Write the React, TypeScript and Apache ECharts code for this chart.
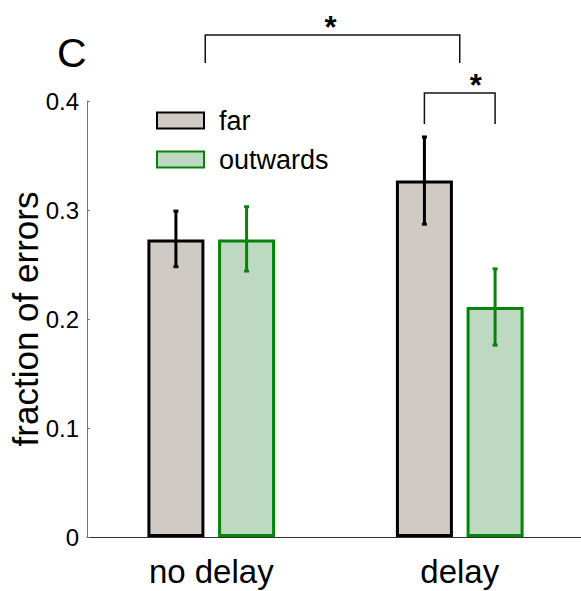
import React, { useEffect, useRef } from "react";
import * as echarts from "echarts";

const categories = ["no delay", "delay"];
const seriesNames = ["far", "outwards"];
const farMean = [0.273, 0.327];
const farLow = [0.248, 0.287];
const farHigh = [0.299, 0.367];
const outMean = [0.273, 0.211];
const outLow = [0.244, 0.176];
const outHigh = [0.303, 0.246];
const yTicks = [0, 0.1, 0.2, 0.3, 0.4];
// significance brackets: category index + bar side (-1 far, +1 outwards), top value, leg-end value
const brackets = [
  { a: [0, -0.17], b: [1, 0], top: 0.4606, leg: 0.4349, label: "*", starShift: -2, starDy: 8 },
  { a: [1, -1], b: [1, 1], top: 0.4073, leg: 0.3789, label: "*", starShift: 16, starDy: 8 },
];

const FONT = "'Liberation Sans', Arial, Helvetica, sans-serif";
const BAR_W = 57;
const BAR_GAP = 0.24;
const OFFSET = (BAR_W + BAR_W * BAR_GAP) / 2;

const FAR_FILL = "#cfcac3";
const FAR_EDGE = "#000000";
const OUT_FILL = "#bdd9c2";
const OUT_EDGE = "#078407";

function errSeries(name: string, low: number[], high: number[], color: string, dir: number) {
  return {
    type: "custom",
    name: name + "_err",
    z: 10,
    data: low.map((l, i) => [i, l, high[i]]),
    renderItem: (params: any, api: any) => {
      const lo = api.coord([api.value(0), api.value(1)]);
      const hi = api.coord([api.value(0), api.value(2)]);
      const x = lo[0] + dir * OFFSET;
      const style = { stroke: color, lineWidth: 3 };
      return {
        type: "group",
        children: [
          { type: "line", shape: { x1: x, y1: lo[1], x2: x, y2: hi[1] }, style },
          { type: "line", shape: { x1: x - 2.5, y1: lo[1], x2: x + 2.5, y2: lo[1] }, style },
          { type: "line", shape: { x1: x - 2.5, y1: hi[1], x2: x + 2.5, y2: hi[1] }, style },
        ],
      };
    },
  };
}

export default function App() {
  const ref = useRef<HTMLDivElement>(null);
  useEffect(() => {
    document.body.style.margin = "0";
    const chart = echarts.init(ref.current!, null, { renderer: "svg" });
    chart.setOption({
      animation: false,
      textStyle: { fontFamily: FONT },
      grid: { left: 87, top: 101, width: 497, height: 436, outerBoundsMode: "none", containLabel: false },
      legend: {
        data: seriesNames,
        orient: "vertical",
        left: 151,
        top: 102,
        itemWidth: 47,
        itemHeight: 16,
        itemGap: 12,
        icon: "rect",
        itemStyle: { borderWidth: 2 },
        textStyle: { fontSize: 27, color: "#000", fontFamily: FONT, padding: [0, 0, 0, 10] },
        selectedMode: false,
      },
      xAxis: {
        type: "category",
        data: categories,
        axisTick: { show: false },
        axisLine: { lineStyle: { color: "#333", width: 1 } },
        axisLabel: { fontSize: 33, color: "#000", margin: 18, fontFamily: FONT },
      },
      yAxis: {
        type: "value",
        min: 0,
        max: 0.4,
        interval: 0.1,
        name: "fraction of errors",
        nameLocation: "middle",
        nameRotate: 90,
        nameGap: 44,
        nameMoveOverlap: false,
        nameTextStyle: { fontSize: 35, color: "#000", fontFamily: FONT },
        axisLine: { show: true, lineStyle: { color: "#777", width: 1 } },
        axisTick: { show: true, inside: true, length: 3, lineStyle: { color: "#777" } },
        splitLine: { show: false },
        axisLabel: {
          fontSize: 24,
          color: "#000",
          margin: 8,
          fontFamily: FONT,
          formatter: (v: number) => {
            const t = yTicks.find((y) => Math.abs(y - v) < 1e-9);
            return t === 0 ? "0" : (t ?? v).toFixed(1);
          },
        },
      },
      series: [
        {
          type: "bar",
          name: seriesNames[0],
          data: farMean,
          barWidth: BAR_W,
          barGap: BAR_GAP * 100 + "%",
          itemStyle: { color: FAR_FILL, borderColor: FAR_EDGE, borderWidth: 3 },
        },
        {
          type: "bar",
          name: seriesNames[1],
          data: outMean,
          barWidth: BAR_W,
          barGap: BAR_GAP * 100 + "%",
          itemStyle: { color: OUT_FILL, borderColor: OUT_EDGE, borderWidth: 3 },
        },
        errSeries("far", farLow, farHigh, FAR_EDGE, -1),
        errSeries("outwards", outLow, outHigh, OUT_EDGE, 1),
      ],
    });

    const px = (cat: number, dir: number, v: number) => {
      const p = chart.convertToPixel({ gridIndex: 0 }, [cat, v]) as number[];
      return [p[0] + dir * OFFSET, p[1]];
    };
    const graphics: any[] = [
      {
        type: "text",
        left: 57,
        top: 32,
        style: { text: "C", fontSize: 41, fill: "#000", fontFamily: FONT },
      },
    ];
    brackets.forEach((b) => {
      const [xa, yt] = px(b.a[0], b.a[1], b.top);
      const [xb] = px(b.b[0], b.b[1], b.top);
      const yl = px(0, 0, b.leg)[1];
      graphics.push({
        type: "polyline",
        shape: { points: [[xa, yl], [xa, yt], [xb, yt], [xb, yl]] },
        style: { stroke: "#111", lineWidth: 1.5, fill: "none" },
      });
      graphics.push({
        type: "text",
        x: (xa + xb) / 2 + b.starShift,
        y: yt + b.starDy,
        style: {
          text: b.label,
          fontSize: 31,
          fontWeight: "bold",
          fill: "#000",
          fontFamily: FONT,
          align: "center",
          verticalAlign: "bottom",
        },
      });
    });
    chart.setOption({ graphic: graphics });

    return () => chart.dispose();
  }, []);
  return (
    <div
      ref={ref}
      style={{ position: "absolute", left: 0, top: 0, width: 581, height: 591 }}
    />
  );
}
